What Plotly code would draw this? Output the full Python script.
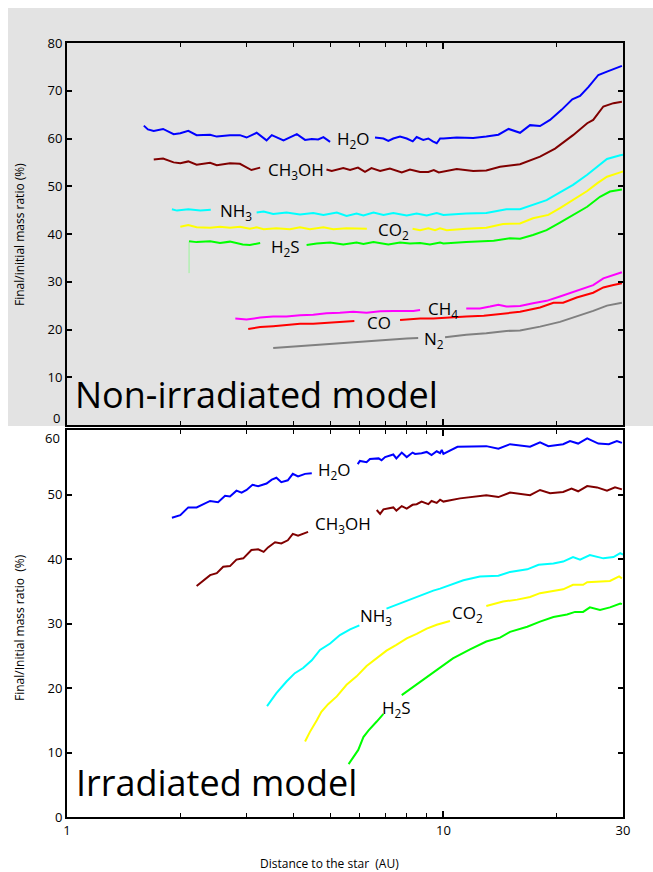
import math
import plotly.graph_objects as go

# ---------------- data: top panel (Non-irradiated model) ----------------
top_h2o_x = [1.60, 1.64, 1.70, 1.80, 1.92, 2.00, 2.10, 2.21, 2.40, 2.50, 2.71, 2.88, 3.00, 3.19, 3.39, 3.50, 3.76, 4.08, 4.29, 4.47, 4.65, 4.80, 5.00, None,
             6.58, 6.93, 7.14, 7.36, 7.67, 7.99, 8.29, 8.49, 8.84, 9.12, 9.37, 9.60, 9.80, 10.0, 10.85, 12.0, 13.0, 14.0, 14.9, 15.98, 16.99, 18.06, 19.2, 20.6, 22.0, 23.07, 24.3, 25.8, 27.2, 28.57, 29.8]
top_h2o_y = [62.7, 61.9, 61.6, 62.0, 60.9, 61.1, 61.6, 60.7, 60.8, 60.4, 60.7, 60.7, 60.2, 61.2, 59.6, 60.7, 59.6, 60.9, 59.7, 59.9, 59.8, 60.3, 59.3, None,
             60.2, 60.0, 59.5, 60.0, 60.4, 60.0, 59.4, 60.3, 59.7, 60.0, 59.4, 59.0, 60.0, 60.0, 60.2, 60.1, 60.4, 60.8, 62.0, 61.2, 62.8, 62.6, 63.9, 66.0, 68.2, 68.9, 70.8, 73.3, 74.0, 74.6, 75.2]

top_ch3oh_x = [1.70, 1.80, 1.92, 2.00, 2.10, 2.21, 2.40, 2.50, 2.71, 2.88, 3.09, 3.26, None,
               4.89, 5.05, 5.42, 5.65, 5.93, 6.19, 6.44, 6.79, 7.21, 7.75, 8.15, 8.67, 9.12, 9.43, 9.72, 10.0, 10.85, 12.0, 13.0, 14.14, 15.98, 18.06, 19.8, 22.1, 24.1, 25.0, 26.6, 28.3, 29.8]
top_ch3oh_y = [55.6, 55.8, 55.0, 54.8, 55.2, 54.5, 54.9, 54.4, 54.8, 54.7, 53.4, 53.9, None,
               53.5, 53.2, 53.8, 53.4, 53.9, 53.0, 53.8, 53.2, 53.7, 52.9, 53.5, 53.0, 53.0, 53.4, 52.9, 53.1, 53.6, 53.2, 53.3, 54.1, 54.6, 56.2, 57.9, 60.7, 63.2, 63.9, 66.7, 67.4, 67.7]

top_nh3_x = [1.90, 1.96, 2.10, 2.26, 2.41, None,
             3.19, 3.33, 3.53, 3.83, 4.16, 4.51, 4.80, 5.21, 5.53, 5.88, 6.13, 6.52, 6.93, 7.36, 7.99, 8.49, 9.03, 9.60, 10.0, 11.5, 13.0, 14.7, 15.98, 17.3, 18.8, 20.4, 22.1, 24.1, 25.6, 27.2, 29.5, 30.0]
top_nh3_y = [45.2, 44.9, 45.2, 44.9, 45.1, None,
             44.5, 44.7, 44.2, 44.5, 44.1, 44.4, 44.0, 44.5, 43.8, 44.3, 43.9, 44.5, 44.0, 44.4, 43.9, 44.3, 43.9, 44.4, 44.0, 44.3, 44.4, 45.2, 45.2, 46.1, 47.1, 48.7, 50.3, 52.4, 54.1, 55.7, 56.5, 56.6]

top_co2_x = [2.00, 2.10, 2.21, 2.40, 2.55, 2.71, 2.88, 3.06, 3.19, 3.33, 3.60, 3.91, 4.16, 4.42, 4.80, 5.10, 5.53, 6.00, 6.26, None,
             8.28, 8.67, 9.12, 9.50, 9.80, 10.2, 11.5, 13.0, 14.4, 15.98, 17.3, 19.0, 20.4, 22.1, 24.1, 25.6, 27.2, 29.5, 30.0]
top_co2_y = [41.5, 41.9, 41.4, 41.3, 41.5, 41.3, 41.5, 41.1, 41.4, 41.0, 41.2, 41.0, 41.4, 41.0, 41.4, 41.0, 41.2, 41.2, 41.1, None,
             41.1, 40.8, 41.2, 40.8, 41.2, 40.8, 41.1, 41.3, 42.1, 42.2, 43.3, 44.0, 45.4, 47.1, 49.0, 50.6, 52.0, 52.9, 53.1]

top_h2s_x = [2.11, 2.21, 2.40, 2.55, 2.71, 2.93, 3.06, 3.26, None,
             4.33, 4.61, 5.00, 5.42, 5.88, 6.13, 6.52, 7.14, 7.67, 8.15, 8.67, 9.21, 9.80, 10.0, 11.5, 13.6, 15.03, 15.98, 17.3, 18.8, 20.4, 22.1, 24.1, 26.06, 27.7, 29.8]
top_h2s_y = [38.5, 38.3, 38.5, 38.1, 38.4, 37.8, 37.7, 38.1, None,
             37.7, 38.0, 38.2, 37.8, 38.2, 37.9, 38.3, 37.8, 38.2, 38.0, 38.1, 37.8, 38.2, 38.0, 38.3, 38.6, 39.1, 39.0, 39.8, 40.8, 42.4, 44.0, 45.7, 47.8, 48.9, 49.3]
top_h2s_drop_x = [2.11, 2.11]
top_h2s_drop_y = [31.8, 38.4]

top_ch4_x = [2.80, 3.00, 3.26, 3.53, 3.83, 4.16, 4.51, 4.89, 5.31, 5.76, 6.25, 6.79, 7.36, 7.99, 8.32, 8.67, None,
             11.5, 12.5, 13.3, 14.0, 14.7, 15.98, 17.3, 18.8, 20.4, 22.1, 23.5, 25.0, 26.6, 28.3, 29.8]
top_ch4_y = [22.3, 22.1, 22.5, 22.7, 22.7, 23.0, 23.1, 23.4, 23.5, 23.7, 23.5, 23.8, 23.9, 23.9, 23.9, 24.1, None,
             24.4, 24.4, 24.8, 25.2, 24.8, 24.9, 25.5, 26.0, 26.9, 27.8, 28.5, 29.3, 30.7, 31.4, 32.0]

top_co_x = [3.03, 3.26, 3.53, 3.83, 4.16, 4.51, 4.89, 5.31, 5.80, None,
            7.67, 8.32, 8.67, 9.40, 10.2, 11.5, 12.8, 14.14, 15.98, 18.06, 19.6, 20.8, 22.6, 25.0, 26.6, 28.3, 29.8]
top_co_y = [20.1, 20.5, 20.7, 20.9, 21.2, 21.2, 21.4, 21.6, 21.8, None,
            22.0, 22.3, 22.3, 22.3, 22.5, 22.7, 22.9, 23.2, 23.7, 24.6, 25.6, 25.6, 26.7, 27.7, 28.8, 29.3, 29.7]

top_n2_x = [3.53, 3.83, 4.16, 4.51, 4.89, 5.31, 5.76, 6.25, 6.79, 7.36, 7.99, 8.57, None,
            10.1, 11.5, 13.0, 14.7, 15.98, 18.06, 20.4, 22.6, 25.0, 27.2, 29.8]
top_n2_y = [16.1, 16.3, 16.5, 16.8, 17.0, 17.2, 17.4, 17.6, 17.8, 17.9, 18.1, 18.2, None,
            18.4, 18.9, 19.2, 19.7, 19.8, 20.6, 21.6, 22.7, 23.9, 25.0, 25.6]

# ---------------- data: bottom panel (Irradiated model) ----------------
bot_h2o_x = [1.90, 2.00, 2.10, 2.21, 2.40, 2.52, 2.63, 2.71, 2.82, 2.91, 3.00, 3.11, 3.22, 3.39, 3.50, 3.60, 3.71, 3.86, 3.98, 4.11, 4.29, 4.47, None,
             5.92, 6.00, 6.25, 6.38, 6.73, 6.85, 7.00, 7.36, 7.50, 7.75, 7.99, 8.28, 8.41, 8.75, 9.03, 9.30, 9.60, 9.80, 9.90, 10.0, 10.9, 13.0, 14.0, 15.03, 16.99, 18.06, 19.0, 20.8, 21.7, 22.8, 24.1, 25.8, 27.5, 28.9, 29.8]
bot_h2o_y = [46.4, 46.8, 48.0, 48.0, 49.0, 48.8, 49.8, 49.7, 50.6, 50.3, 50.7, 51.5, 51.3, 51.7, 52.3, 52.6, 51.9, 52.2, 53.2, 52.8, 53.2, 53.3, None,
             54.7, 55.2, 55.0, 55.5, 55.6, 55.3, 55.8, 56.2, 55.6, 56.5, 55.8, 56.5, 56.3, 56.4, 56.6, 56.1, 56.7, 56.4, 56.9, 56.3, 57.4, 57.5, 57.1, 57.8, 57.4, 58.1, 57.5, 57.8, 58.3, 57.9, 58.7, 57.9, 57.8, 58.3, 58.0]

bot_ch3oh_x = [2.21, 2.30, 2.40, 2.50, 2.60, 2.71, 2.82, 2.94, 3.09, 3.22, 3.33, 3.42, 3.57, 3.71, 3.86, 3.98, 4.11, 4.37, None,
               6.65, 6.79, 6.93, 7.36, 7.50, 7.75, 7.99, 8.28, 8.49, 8.75, 9.12, 9.30, 9.60, 9.80, 10.0, 11.07, 13.0, 14.0, 15.03, 16.99, 18.06, 19.2, 20.8, 21.9, 22.8, 24.1, 25.6, 27.2, 28.57, 29.8]
bot_ch3oh_y = [35.8, 36.6, 37.5, 37.8, 38.8, 38.9, 39.9, 40.1, 41.4, 41.5, 41.1, 41.8, 42.6, 42.4, 42.9, 43.9, 43.6, 44.2, None,
               47.6, 47.0, 47.7, 48.0, 47.5, 48.2, 47.8, 48.4, 48.5, 48.9, 48.5, 49.0, 48.7, 49.2, 48.9, 49.4, 49.9, 49.6, 50.3, 49.9, 50.7, 50.2, 50.4, 50.9, 50.5, 51.3, 51.1, 50.6, 51.1, 50.8]

bot_nh3_x = [3.40, 3.60, 3.83, 4.03, 4.24, 4.47, 4.70, 5.00, 5.31, 5.65, 5.98, None,
             7.06, 7.36, 7.83, 8.15, 8.49, 8.94, 9.40, 9.80, 10.41, 11.3, 12.5, 14.0, 15.03, 16.7, 17.9, 19.6, 20.8, 22.1, 23.07, 24.5, 26.6, 28.3, 29.5, 30.0]
bot_nh3_y = [17.2, 19.2, 21.0, 22.3, 23.1, 24.3, 25.9, 26.9, 28.2, 29.1, 29.7, None,
             32.3, 32.7, 33.4, 33.7, 34.1, 34.7, 35.1, 35.4, 36.0, 36.7, 37.3, 37.4, 38.0, 38.4, 39.1, 39.3, 39.6, 40.3, 39.9, 40.6, 40.1, 40.3, 40.9, 40.7]

bot_co2_x = [4.29, 4.42, 4.61, 4.74, 4.94, 5.21, 5.53, 5.88, 6.25, 6.65, 7.06, 7.50, 7.99, 8.49, 9.03, 9.60, 10.41, None,
             13.0, 14.4, 15.7, 16.99, 18.06, 19.6, 20.8, 22.1, 23.5, 24.1, 25.6, 27.7, 29.3, 29.8]
bot_co2_y = [11.7, 13.2, 15.0, 16.3, 17.5, 18.7, 20.5, 21.8, 23.4, 24.6, 25.8, 26.7, 27.7, 28.4, 29.2, 29.8, 30.4, None,
             32.7, 33.4, 33.7, 34.1, 34.7, 35.1, 35.3, 36.0, 36.0, 36.4, 36.5, 36.6, 37.3, 37.0]

bot_h2s_x = [5.60, 5.76, 5.94, 6.13, 6.32, 6.65, 6.93, None,
             7.75, 8.32, 9.03, 9.80, 10.6, 11.77, 13.0, 14.14, 15.03, 16.7, 18.06, 19.6, 21.3, 22.37, 23.5, 24.5, 26.06, 27.7, 29.5, 29.8]
bot_h2s_y = [8.2, 9.3, 10.4, 12.4, 13.4, 14.8, 16.0, None,
             18.9, 20.2, 21.8, 23.3, 24.6, 26.0, 27.2, 27.8, 28.7, 29.5, 30.3, 31.0, 31.4, 31.8, 31.8, 32.5, 32.1, 32.5, 33.1, 33.0]

COLORS = {"H2O": "#0000ff", "CH3OH": "#800000", "NH3": "#00ffff", "CO2": "#ffff00",
          "H2S": "#00ff00", "CH4": "#ff00ff", "CO": "#ff0000", "N2": "#808080"}

top_series = [("H2O", top_h2o_x, top_h2o_y), ("CH3OH", top_ch3oh_x, top_ch3oh_y),
              ("NH3", top_nh3_x, top_nh3_y), ("CO2", top_co2_x, top_co2_y),
              ("H2S", top_h2s_x, top_h2s_y), ("CH4", top_ch4_x, top_ch4_y),
              ("CO", top_co_x, top_co_y), ("N2", top_n2_x, top_n2_y)]
bot_series = [("H2O", bot_h2o_x, bot_h2o_y), ("CH3OH", bot_ch3oh_x, bot_ch3oh_y),
              ("NH3", bot_nh3_x, bot_nh3_y), ("CO2", bot_co2_x, bot_co2_y),
              ("H2S", bot_h2s_x, bot_h2s_y)]

x_tick_vals = [1, 10, 30]
x_tick_text = ["1", "10", "30"]
x_minor_vals = [2, 3, 4, 5, 6, 7, 8, 9, 20]
top_y_vals = [0, 10, 20, 30, 40, 50, 60, 70, 80]
top_y_text = ["", "10", "20", "30", "40", "50", "60", "70", "80"]
bot_y_vals = [0, 10, 20, 30, 40, 50, 60]
bot_y_text = ["0", "10", "20", "30", "40", "50", ""]

FONT = "Open Sans"

fig = go.Figure()
fig.add_trace(go.Scatter(x=top_h2s_drop_x, y=top_h2s_drop_y, mode="lines",
                         line=dict(color="#9af59a", width=1), xaxis="x", yaxis="y",
                         showlegend=False, hoverinfo="skip"))
for name, xs, ys in top_series:
    fig.add_trace(go.Scatter(x=xs, y=ys, mode="lines", line=dict(color=COLORS[name], width=2),
                             xaxis="x", yaxis="y", showlegend=False, connectgaps=False))
for name, xs, ys in bot_series:
    fig.add_trace(go.Scatter(x=xs, y=ys, mode="lines", line=dict(color=COLORS[name], width=2),
                             xaxis="x2", yaxis="y2", showlegend=False, connectgaps=False))

# geometry (pixels) -> paper helpers for layout items
W, H = 653, 872
L, R, T, B = 67, 30, 43, 55
PW, PH = W - L - R, H - T - B


def xp(px):
    return (px - L) / PW


def yp(py):
    return (H - B - py) / PH


xr = [0, math.log10(30)]
common_x = dict(type="log", range=xr, showline=True, linecolor="black", linewidth=2,
                mirror="allticks", ticks="inside", ticklen=6, tickwidth=1.5, tickcolor="black",
                tickmode="array", tickvals=x_tick_vals, ticktext=x_tick_text,
                minor=dict(tickmode="array", tickvals=x_minor_vals, ticks="inside",
                           ticklen=4, tickwidth=1, tickcolor="black", showgrid=False),
                showgrid=False, zeroline=False,
                tickfont=dict(family=FONT, size=13, color="black"))
common_y = dict(showline=True, linecolor="black", linewidth=2, mirror="allticks",
                ticks="inside", ticklen=5, tickwidth=1.5, tickcolor="black", tickmode="array",
                showgrid=False, zeroline=False,
                tickfont=dict(family=FONT, size=13, color="black"))

fig.update_layout(
    width=W, height=H, margin=dict(l=L, r=R, t=T, b=B, pad=0),
    paper_bgcolor="white", plot_bgcolor="rgba(0,0,0,0)",
    xaxis=dict(common_x, anchor="y", domain=[0, 1], showticklabels=False),
    yaxis=dict(common_y, anchor="x", domain=[yp(425), 1], range=[0, 80],
               tickvals=top_y_vals, ticktext=top_y_text),
    xaxis2=dict(common_x, anchor="y2", domain=[0, 1]),
    yaxis2=dict(common_y, anchor="x2", domain=[0, yp(430)], range=[0, 60],
                tickvals=bot_y_vals, ticktext=bot_y_text),
    shapes=[dict(type="rect", xref="paper", yref="paper", x0=xp(8), x1=xp(653),
                 y0=yp(426), y1=yp(8), fillcolor="#e3e3e3", line=dict(width=0), layer="below")],
)

labels = [
    ("H<sub>2</sub>O", 353, 139), ("CH<sub>3</sub>OH", 296, 170), ("NH<sub>3</sub>", 236, 211),
    ("CO<sub>2</sub>", 393, 230), ("H<sub>2</sub>S", 285, 247), ("CH<sub>4</sub>", 443, 309),
    ("CO", 379.5, 322), ("N<sub>2</sub>", 434, 339),
    ("H<sub>2</sub>O", 334.5, 470), ("CH<sub>3</sub>OH", 342.5, 524), ("NH<sub>3</sub>", 375.5, 616),
    ("CO<sub>2</sub>", 467.5, 613), ("H<sub>2</sub>S", 396, 708),
]
ann = []
for text, cx, cy in labels:
    ann.append(dict(text=text, x=xp(cx), y=yp(cy), xref="paper", yref="paper",
                    xanchor="center", yanchor="middle", showarrow=False,
                    font=dict(family=FONT, size=17, color="black")))
# end-of-axis tick labels, offset as in the reference
ann.append(dict(text="0", x=xp(62), y=yp(418), xref="paper", yref="paper",
                xanchor="right", yanchor="middle", showarrow=False,
                font=dict(family=FONT, size=13, color="black")))
ann.append(dict(text="60", x=xp(62), y=yp(438), xref="paper", yref="paper",
                xanchor="right", yanchor="middle", showarrow=False,
                font=dict(family=FONT, size=13, color="black")))
ann.append(dict(text="Non-irradiated model", x=xp(73), y=yp(394), xref="paper", yref="paper",
                xanchor="left", yanchor="middle", showarrow=False,
                font=dict(family=FONT, size=36, color="black")))
ann.append(dict(text="Irradiated model", x=xp(74), y=yp(782), xref="paper", yref="paper",
                xanchor="left", yanchor="middle", showarrow=False,
                font=dict(family=FONT, size=36, color="black")))
ann.append(dict(text="Final/initial mass ratio (%)", x=xp(19), y=yp(235), xref="paper", yref="paper",
                xanchor="center", yanchor="middle", textangle=-90, showarrow=False,
                font=dict(family=FONT, size=12, color="black")))
ann.append(dict(text="Final/Initial mass ratio  (%)", x=xp(19), y=yp(628), xref="paper", yref="paper",
                xanchor="center", yanchor="middle", textangle=-90, showarrow=False,
                font=dict(family=FONT, size=12, color="black")))
ann.append(dict(text="Distance to the star  (AU)", x=xp(329), y=yp(863), xref="paper", yref="paper",
                xanchor="center", yanchor="middle", showarrow=False,
                font=dict(family=FONT, size=12, color="black")))
fig.update_layout(annotations=ann)

fig.write_html("out.html")
